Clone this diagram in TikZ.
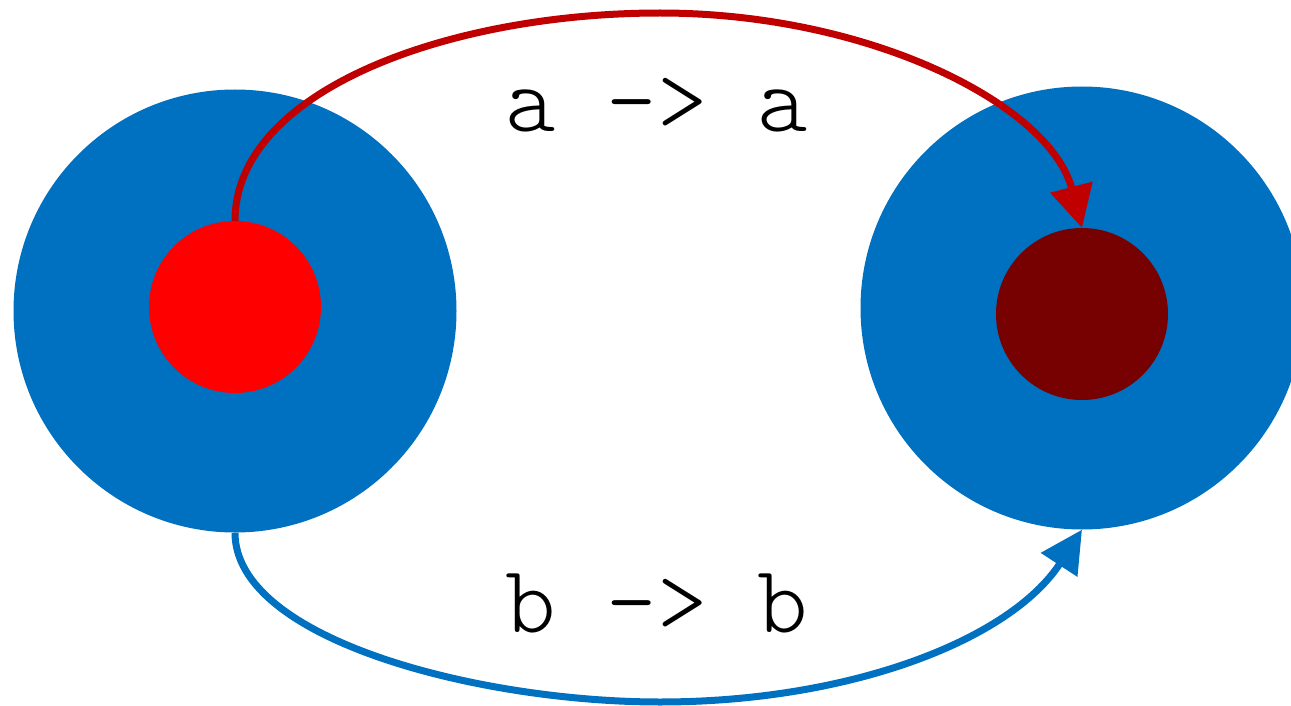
\documentclass[tikz,border=0pt]{standalone}
\usepackage{fontspec}
\newfontfamily\lightmono{Latin Modern Mono Light}
\usetikzlibrary{arrows.meta}
\definecolor{pblue}{HTML}{0070C0}
\definecolor{pred}{HTML}{FF0000}
\definecolor{pdark}{HTML}{770000}
\definecolor{pline}{HTML}{C00000}
\tikzset{
  outer/.style={circle, fill=pblue, inner sep=0pt, minimum size=443pt},
  inner/.style={circle, inner sep=0pt, minimum size=172pt},
  conn/.style={line width=7pt, -{Triangle[length=42pt,width=42pt]}},
  lbl/.style={anchor=base, inner sep=0pt, font=\lightmono\fontsize{96}{96}\selectfont}
}
\begin{document}
\begin{tikzpicture}[x=1pt,y=-1pt]
\useasboundingbox (0,0) rectangle (1291,706);
\node[outer] (L) at (235,311) {};
\node[outer] (R) at (1082,308) {};
\node[inner, fill=pred] (Li) at (235,307) {};
\node[inner, fill=pdark] (Ri) at (1082,314) {};
\draw[conn, pline] (Li.north) .. controls (235,90) and (450,13) .. (660,13)
  .. controls (870,13) and (1050,105) .. (Ri.north);
\draw[conn, pblue] (L.south) .. controls (235,640) and (480,702) .. (660,702)
  .. controls (850,702) and (1010,640) .. (R.south);
\node[lbl] (ta) at (657,132) {a -> a};
\node[lbl] (tb) at (657,632) {b -> b};
\end{tikzpicture}
\end{document}
